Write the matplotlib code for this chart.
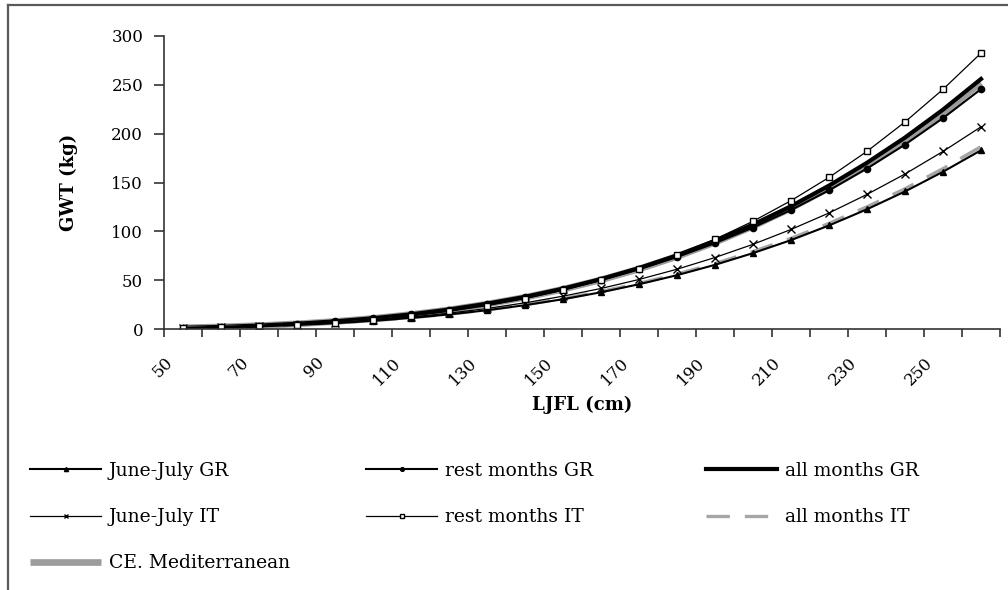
import matplotlib
matplotlib.use("Agg")
import matplotlib.pyplot as plt
from matplotlib.lines import Line2D

plt.rcParams["font.family"] = ["DejaVu Serif"]

# LJFL class mid-points (cm)
ljfl = [55, 65, 75, 85, 95, 105, 115, 125, 135, 145, 155,
        165, 175, 185, 195, 205, 215, 225, 235, 245, 255, 265]

# GWT (kg)
june_july_gr = [0.96, 1.67, 2.70, 4.10, 5.95, 8.31, 11.3, 14.9, 19.2, 24.4, 30.5,
                37.6, 45.8, 55.1, 65.7, 77.7, 91.0, 106.0, 122.6, 140.8, 161.0, 183.0]
rest_months_gr = [1.26, 2.22, 3.58, 5.44, 7.91, 11.1, 15.0, 19.8, 25.7, 32.6, 40.7,
                  50.2, 61.2, 73.7, 87.9, 103.9, 121.9, 142.0, 164.3, 188.8, 215.9, 245.6]
all_months_gr = [1.22, 2.15, 3.50, 5.36, 7.83, 11.0, 15.0, 19.9, 25.9, 32.9, 41.3,
                 51.1, 62.4, 75.4, 90.2, 106.9, 125.7, 146.8, 170.2, 196.0, 224.6, 256.0]
june_july_it = [1.00, 1.77, 2.87, 4.39, 6.40, 8.97, 12.2, 16.2, 21.0, 26.8, 33.6,
                41.5, 50.7, 61.2, 73.2, 86.7, 101.9, 118.8, 137.8, 158.7, 181.8, 207.0]
rest_months_it = [0.89, 1.65, 2.78, 4.41, 6.62, 9.54, 13.3, 18.1, 23.9, 31.1, 39.7,
                  49.9, 61.9, 75.9, 91.9, 110.3, 131.4, 155.2, 181.9, 212.0, 245.4, 282.5]
all_months_it = [0.98, 1.70, 2.75, 4.18, 6.07, 8.48, 11.5, 15.2, 19.6, 24.9, 31.1,
                 38.4, 46.7, 56.2, 67.0, 79.3, 92.8, 108.1, 125.1, 143.6, 164.2, 186.7]
ce_mediterranean = [1.20, 2.12, 3.44, 5.28, 7.71, 10.8, 14.8, 19.6, 25.5, 32.4, 40.7,
                    50.3, 61.4, 74.2, 88.8, 105.2, 123.7, 144.5, 167.5, 192.9, 221.1, 252.0]

x_ticks = list(range(50, 271, 10))
x_labels = [str(v) if v % 20 == 10 and v <= 250 else "" for v in x_ticks]
y_ticks = [0, 50, 100, 150, 200, 250, 300]

fig = plt.figure(figsize=(10.08, 5.90), dpi=100)
ax = fig.add_axes([164 / 1008, 1 - 329 / 590, 836 / 1008, 293 / 590])

# outer frame of the original figure (left and top edges visible)
fig.add_artist(Line2D([8 / 1008, 8 / 1008], [0, 1 - 5 / 590], color="#5a5a5a", lw=1.6))
fig.add_artist(Line2D([8 / 1008, 1], [1 - 5 / 590, 1 - 5 / 590], color="#5a5a5a", lw=1.6))

h_ce, = ax.plot(ljfl, ce_mediterranean, color="#9c9c9c", lw=4.8,
                solid_capstyle="butt", label="CE. Mediterranean")
h_agr, = ax.plot(ljfl, all_months_gr, color="black", lw=3.0,
                 solid_capstyle="projecting", label="all months GR")
h_ait, = ax.plot(ljfl, all_months_it, color="#a6a6a6", lw=2.4, dashes=(7, 4.5),
                 label="all months IT")
h_jgr, = ax.plot(ljfl, june_july_gr, color="black", lw=1.5, marker="^", ms=5,
                 label="June-July GR")
h_rgr, = ax.plot(ljfl, rest_months_gr, color="black", lw=1.5, marker="o", ms=4.5,
                 label="rest months GR")
h_jit, = ax.plot(ljfl, june_july_it, color="black", lw=0.9, marker="x", ms=5.5,
                 mew=1.0, label="June-July IT")
h_rit, = ax.plot(ljfl, rest_months_it, color="black", lw=0.9, marker="s", ms=4.2,
                 mfc="white", mew=1.0, label="rest months IT")

ax.set_xlim(50, 270)
ax.set_ylim(0, 300)
ax.spines["top"].set_visible(False)
ax.spines["right"].set_visible(False)
for side in ("left", "bottom"):
    ax.spines[side].set_linewidth(1.2)
    ax.spines[side].set_color("#333333")

ax.set_yticks(y_ticks)
ax.tick_params(axis="y", direction="out", length=7, width=1.2, labelsize=12,
               pad=8, color="#333333")
ax.set_xticks(x_ticks)
ax.set_xticklabels(x_labels)
ax.tick_params(axis="x", direction="out", length=6, width=1.2, labelsize=12,
               pad=12, color="#333333")
for lab in ax.get_xticklabels():
    lab.set_rotation(45)
    lab.set_ha("right")
    lab.set_va("top")
    lab.set_rotation_mode("anchor")

ax.set_ylabel("GWT (kg)", fontsize=13, fontweight="bold", labelpad=24)
ax.set_xlabel("LJFL (cm)", fontsize=13, fontweight="bold", labelpad=5)

legend_kw = dict(frameon=False, fontsize=13.5, handlelength=3.8, handletextpad=0.4,
                 labelspacing=1.5, borderpad=0, borderaxespad=0, numpoints=1,
                 markerscale=0.6, loc="upper left", bbox_transform=fig.transFigure)
columns = [
    ([h_jgr, h_jit, h_ce], 30),
    ([h_rgr, h_rit], 366),
    ([h_agr, h_ait], 706),
]
for handles, x0 in columns:
    fig.legend(handles=handles, labels=[h.get_label() for h in handles],
               bbox_to_anchor=(x0 / 1008, 1 - 462 / 590), **legend_kw)

fig.savefig("out.png", dpi=100)
